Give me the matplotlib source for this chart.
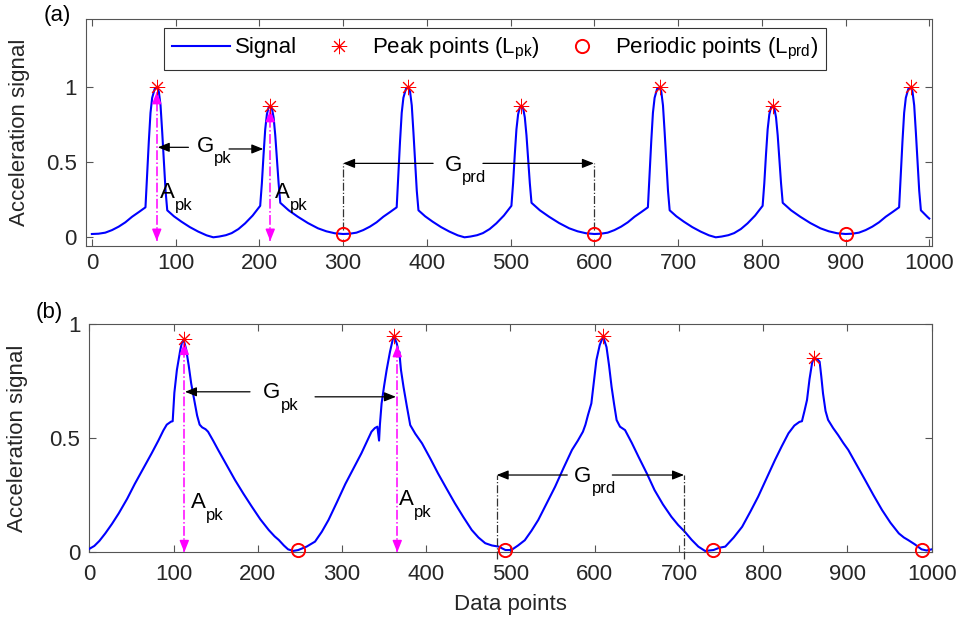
import numpy as np
import matplotlib
matplotlib.use("Agg")
import matplotlib.pyplot as plt

plt.rcParams["font.family"] = ["Liberation Sans", "DejaVu Sans"]
plt.rcParams["mathtext.fontset"] = "custom"
plt.rcParams["mathtext.rm"] = "Liberation Sans"
plt.rcParams["mathtext.it"] = "Liberation Sans"
plt.rcParams["mathtext.default"] = "regular"

# ── (a) idealised signal, vertices ────────────────────────────────────
SIG_A_X = [
    0, 8, 16, 24, 32, 40, 48, 56, 64, 66, 68, 70, 72, 75, 78, 80, 82, 84, 86, 88,
    90, 98, 107, 117, 127, 137, 145, 152, 160, 167, 175, 183, 192, 201, 203, 205,
    207, 209, 211, 213, 215, 217, 219, 221, 223, 225, 235, 246, 258, 270, 280, 290,
    300, 308, 316, 324, 332, 340, 348, 356, 364, 366, 368, 370, 372, 375, 378, 380,
    382, 384, 386, 388, 390, 398, 407, 417, 427, 437, 445, 452, 460, 467, 475, 483,
    492, 501, 503, 505, 507, 509, 511, 513, 515, 517, 519, 521, 523, 525, 535, 546,
    558, 570, 580, 590,
    600, 608, 616, 624, 632, 640, 648, 656, 664, 666, 668, 670, 672, 675, 678, 680,
    682, 684, 686, 688, 690, 698, 707, 717, 727, 737, 745, 752, 760, 767, 775, 783,
    792, 801, 803, 805, 807, 809, 811, 813, 815, 817, 819, 821, 823, 825, 835, 846,
    858, 870, 880, 890,
    900, 908, 916, 924, 932, 940, 948, 956, 964, 966, 968, 970, 972, 975, 978, 980,
    982, 984, 986, 988, 990, 998, 1000,
]
SIG_A_Y = [
    0.022, 0.024, 0.031, 0.048, 0.071, 0.100, 0.137, 0.168, 0.200, 0.42, 0.64, 0.83,
    0.93, 0.99, 1.00, 0.97, 0.88, 0.70, 0.50, 0.31, 0.18, 0.140, 0.104, 0.068, 0.038,
    0.013, 0.000, 0.005, 0.014, 0.028, 0.055, 0.093, 0.145, 0.210, 0.36, 0.55, 0.72,
    0.82, 0.865, 0.875, 0.86, 0.80, 0.68, 0.52, 0.36, 0.23, 0.180, 0.137, 0.095,
    0.060, 0.040, 0.027,
    0.022, 0.024, 0.031, 0.048, 0.071, 0.100, 0.137, 0.168, 0.200, 0.42, 0.64, 0.83,
    0.93, 0.99, 1.00, 0.97, 0.88, 0.70, 0.50, 0.31, 0.18, 0.140, 0.104, 0.068, 0.038,
    0.013, 0.000, 0.005, 0.014, 0.028, 0.055, 0.093, 0.145, 0.210, 0.36, 0.55, 0.72,
    0.82, 0.865, 0.875, 0.86, 0.80, 0.68, 0.52, 0.36, 0.23, 0.180, 0.137, 0.095,
    0.060, 0.040, 0.027,
    0.022, 0.024, 0.031, 0.048, 0.071, 0.100, 0.137, 0.168, 0.200, 0.42, 0.64, 0.83,
    0.93, 0.99, 1.00, 0.97, 0.88, 0.70, 0.50, 0.31, 0.18, 0.140, 0.104, 0.068, 0.038,
    0.013, 0.000, 0.005, 0.014, 0.028, 0.055, 0.093, 0.145, 0.210, 0.36, 0.55, 0.72,
    0.82, 0.865, 0.875, 0.86, 0.80, 0.68, 0.52, 0.36, 0.23, 0.180, 0.137, 0.095,
    0.060, 0.040, 0.027,
    0.022, 0.024, 0.031, 0.048, 0.071, 0.100, 0.137, 0.168, 0.200, 0.42, 0.64, 0.83,
    0.93, 0.99, 1.00, 0.97, 0.88, 0.70, 0.50, 0.31, 0.18, 0.135, 0.125,
]
PEAK_A_X = [78, 213, 378, 513, 678, 813, 978]
PEAK_A_Y = [1.0, 0.875, 1.0, 0.875, 1.0, 0.875, 1.0]
PRD_A_X = [300, 600, 900]
PRD_A_Y = [0.022, 0.022, 0.022]

# ── (b) measured signal ───────────────────────────────────────────────
SIG_B_X = [
    0, 6, 12, 19, 27, 35, 45, 54, 64, 74, 82, 88, 92, 97, 99, 101, 104, 108, 110, 112,
    115, 118, 121, 125, 128, 131, 134, 138, 141, 147, 153, 163, 173, 183, 193, 203,
    213, 220, 225, 231, 236, 242, 248, 258, 268, 276, 284, 294, 304, 314, 323, 330,
    335, 339, 342, 344, 345, 347, 350, 353, 357, 361, 363, 365, 366, 367, 368, 369,
    370, 373, 377, 381, 387, 395, 405, 414, 424, 434, 444, 454, 462, 470, 478, 486,
    494, 501, 509, 517, 525, 533, 543, 553, 563, 573, 580, 586, 589, 592, 596, 599,
    602, 606, 610, 614, 617, 620, 623, 626, 630, 636, 644, 652, 662, 671, 681, 691,
    699, 707, 715, 723, 731, 741, 748, 755, 765, 775, 785, 794, 804, 814, 822, 830,
    837, 843, 846, 849, 852, 855, 858, 860, 864, 867, 869, 871, 874, 877, 883, 889,
    895, 901, 911, 921, 931, 941, 951, 961, 967, 972, 980, 988, 994, 1000,
]
SIG_B_Y = [
    0.015, 0.028, 0.050, 0.083, 0.125, 0.171, 0.235, 0.300, 0.367, 0.434, 0.490,
    0.535, 0.560, 0.573, 0.575, 0.700, 0.800, 0.887, 0.920, 0.932, 0.890, 0.820,
    0.740, 0.660, 0.600, 0.560, 0.548, 0.540, 0.529, 0.490, 0.449, 0.383, 0.317,
    0.257, 0.200, 0.145, 0.098, 0.070, 0.054, 0.030, 0.013, 0.006, 0.010, 0.025,
    0.047, 0.090, 0.142, 0.220, 0.300, 0.370, 0.434, 0.490, 0.529, 0.545, 0.551,
    0.490, 0.560, 0.653, 0.730, 0.800, 0.880, 0.946, 0.935, 0.916, 0.900, 0.860,
    0.880, 0.840, 0.800, 0.726, 0.640, 0.558, 0.520, 0.478, 0.410, 0.346, 0.280,
    0.215, 0.155, 0.098, 0.065, 0.040, 0.030, 0.025, 0.010, 0.010, 0.030, 0.053,
    0.095, 0.142, 0.215, 0.288, 0.370, 0.449, 0.490, 0.529, 0.560, 0.602, 0.653,
    0.750, 0.843, 0.910, 0.946, 0.900, 0.820, 0.726, 0.650, 0.580, 0.551, 0.536,
    0.480, 0.419, 0.345, 0.273, 0.210, 0.156, 0.120, 0.090, 0.055, 0.025, 0.006,
    0.010, 0.020, 0.025, 0.065, 0.112, 0.180, 0.244, 0.325, 0.405, 0.465, 0.522,
    0.556, 0.572, 0.575, 0.620, 0.668, 0.760, 0.830, 0.851, 0.848, 0.836, 0.770,
    0.697, 0.620, 0.581, 0.545, 0.514, 0.480, 0.449, 0.383, 0.317, 0.250, 0.186,
    0.130, 0.083, 0.065, 0.054, 0.035, 0.013, 0.008, 0.013,
]
PEAK_B_X = [112, 362, 610, 860]
PEAK_B_Y = [0.935, 0.949, 0.949, 0.851]
PRD_B_X = [248, 494, 741, 989]
PRD_B_Y = [0.010, 0.010, 0.010, 0.010]

TXT = "#262626"
BLUE = "#0000ff"
MAG = "#ff00ff"
STAR = (8, 2, 0)   # eight-spoke asterisk, like MATLAB's '*'


def arrow(ax, tail, head, color="k", lw=0.9):
    ax.annotate("", xy=head, xytext=tail, zorder=6,
                arrowprops=dict(arrowstyle="-|>,head_length=0.7,head_width=0.28",
                                color=color, lw=lw, shrinkA=0, shrinkB=0,
                                mutation_scale=10))


def amp_arrow(ax, x, y0, y1):
    """Magenta dash-dot double arrow."""
    ax.plot([x, x], [y0, y1], ls="-.", color=MAG, lw=1.1, zorder=6, clip_on=False)
    d = 0.03
    arrow(ax, (x, y1 - d), (x, y1), color=MAG, lw=1.1)
    arrow(ax, (x, y0 + d), (x, y0), color=MAG, lw=1.1)


def sub_label(ax, x, y, main, sub, w):
    ax.text(x, y, main, fontsize=16, ha="left", va="baseline", color="k", zorder=7)
    ax.annotate(sub, xy=(x, y), xytext=(w, -8.4), textcoords="offset points",
                fontsize=12, ha="left", va="baseline", color="k", zorder=7)


def style_axes(ax, xpad):
    ax.tick_params(direction="in", top=True, right=True, length=5, width=0.8,
                   labelsize=16, colors="#555555", labelcolor=TXT)
    ax.tick_params(axis="x", pad=xpad)
    ax.tick_params(axis="y", pad=6.5)
    for s in ax.spines.values():
        s.set_color("#555555")
        s.set_linewidth(0.8)
    ax.set_xticks(np.arange(0, 1001, 100))
    ax.set_yticks([0, 0.5, 1])
    ax.set_yticklabels(["0", "0.5", "1"])


fig = plt.figure(figsize=(9.6, 6.25), dpi=100)

# ── panel (a) ─────────────────────────────────────────────────────────
ax1 = fig.add_axes([0.0896, 0.6064, 0.881, 0.364])
ax1.plot(SIG_A_X, SIG_A_Y, color=BLUE, lw=1.5, label="Signal", zorder=3)
ax1.plot(PEAK_A_X, PEAK_A_Y, ls="none", marker=STAR, ms=11, mec="r", mew=0.7,
         label="Peak points (L$_{pk}$)", zorder=8)
ax1.plot(PRD_A_X, PRD_A_Y, ls="none", marker="o", ms=9.5, mfc="none", mec="r",
         mew=1.4, label="Periodic points (L$_{prd}$)", zorder=8)
ax1.set_xlim(-7, 1003)
ax1.set_ylim(-0.058, 1.459)
style_axes(ax1, 4.8)
ax1.set_ylabel("Acceleration signal", fontsize=16, color=TXT)
ax1.yaxis.set_label_coords(-0.066, 0.5)

amp_arrow(ax1, 77.5, -0.025, 0.97)
amp_arrow(ax1, 213, -0.025, 0.85)
sub_label(ax1, 81.5, 0.26, "A", "pk", 10.7)
sub_label(ax1, 218.7, 0.26, "A", "pk", 10.7)

arrow(ax1, (115.3, 0.60), (78.7, 0.60))
sub_label(ax1, 125.2, 0.571, "G", "pk", 12.4)
arrow(ax1, (163.8, 0.589), (204.7, 0.589))

arrow(ax1, (407.5, 0.493), (300, 0.493))
sub_label(ax1, 421.3, 0.444, "G", "prd", 12.4)
arrow(ax1, (467, 0.493), (599.5, 0.493))
for xv in PRD_A_X[:2]:
    ax1.plot([xv, xv], [0.05, 0.493], ls="-.", color="#333333", lw=0.9, zorder=5)

leg = ax1.legend(loc="center", bbox_to_anchor=(0.484, 0.866), ncol=3, frameon=True,
                 fancybox=False, edgecolor="k", fontsize=16, handlelength=2.6,
                 handletextpad=0.2, columnspacing=0.6, borderpad=0.35,
                 borderaxespad=0)
leg.get_frame().set_linewidth(0.8)
for t in leg.get_texts():
    t.set_color("k")

# ── panel (b) ─────────────────────────────────────────────────────────
ax2 = fig.add_axes([0.093, 0.1163, 0.8775, 0.3648])
ax2.plot(SIG_B_X, SIG_B_Y, color=BLUE, lw=1.5, zorder=3)
ax2.plot(PEAK_B_X, PEAK_B_Y, ls="none", marker=STAR, ms=11, mec="r", mew=0.7,
         zorder=8)
ax2.plot(PRD_B_X, PRD_B_Y, ls="none", marker="o", ms=9.5, mfc="none", mec="r",
         mew=1.4, zorder=8, clip_on=False)
ax2.set_xlim(0, 1000)
ax2.set_ylim(0, 1)
style_axes(ax2, 8.6)
ax2.set_ylabel("Acceleration signal", fontsize=16, color=TXT)
ax2.yaxis.set_label_coords(-0.0724, 0.5)
ax2.set_xlabel("Data points", fontsize=16, color=TXT)
ax2.xaxis.set_label_coords(0.5, -0.183)

amp_arrow(ax2, 112.8, 0.0, 0.92)
amp_arrow(ax2, 365.6, 0.0, 0.91)
sub_label(ax2, 120.7, 0.193, "A", "pk", 10.7)
sub_label(ax2, 367.6, 0.207, "A", "pk", 10.7)

arrow(ax2, (190.8, 0.704), (113.6, 0.704))
sub_label(ax2, 206.6, 0.675, "G", "pk", 12.4)
arrow(ax2, (268, 0.682), (364, 0.682))

arrow(ax2, (567.4, 0.339), (483.6, 0.339))
sub_label(ax2, 575.8, 0.31, "G", "prd", 12.4)
arrow(ax2, (620.9, 0.339), (706, 0.339))
for xv in (483.6, 706):
    ax2.plot([xv, xv], [-0.03, 0.339], ls="-.", color="#333333", lw=0.9, zorder=5,
             clip_on=False)

fig.text(0.06, 0.9744, "(a)", fontsize=16, ha="center", va="center", color="k")
fig.text(0.051, 0.5, "(b)", fontsize=16, ha="center", va="center", color="k")

fig.savefig("out.png", dpi=100)
